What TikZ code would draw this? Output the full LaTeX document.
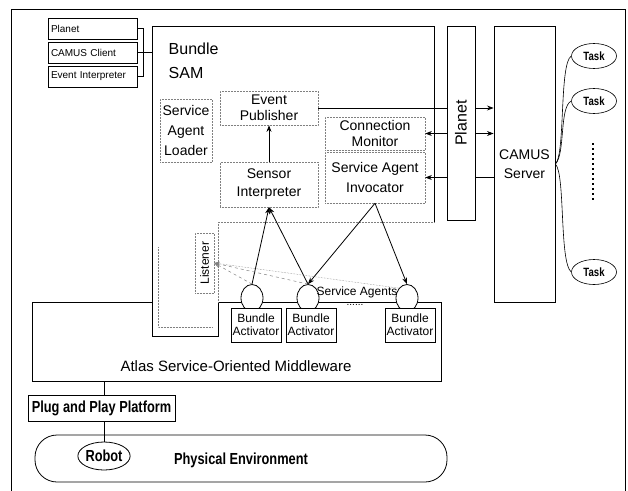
\documentclass[tikz,border=0pt]{standalone}
\usepackage{fontspec}
\setmainfont{Liberation Sans}
\usetikzlibrary{arrows.meta, shapes.geometric, calc}
\newcommand{\narrowtext}[1]{\scalebox{0.8}[1]{#1}}

\begin{document}
\begin{tikzpicture}[x=1pt, y=-1pt, line width=0.8pt,
    smallbox/.style={draw, minimum height=21, text width=83, inner sep=3pt, align=left, font={\fontsize{10}{12}\selectfont}},
    part/.style={draw=gray, densely dotted, line width=0.5pt, inner sep=1pt, align=center, text=black},
    agent/.style={ellipse, draw, fill=white, minimum width=22, minimum height=27, inner sep=0pt},
    activator/.style={draw, fill=white, minimum width=50, minimum height=34, inner sep=0.5pt, align=center, font={\fontsize{12}{13}\selectfont}},
    task/.style={ellipse, draw, line width=0.6pt, minimum width=45, minimum height=25, inner sep=0pt, font={\bfseries\fontsize{12}{12}\selectfont}}]
  \useasboundingbox (0,0) rectangle (628,490);
  \draw[thick] (11,9) rectangle (625,495);
  % middleware under the bundle
  \node[draw, minimum width=409, minimum height=79, anchor=north west] (mw) at (32,302) {};
  \node[font={\fontsize{15}{18}\selectfont}] (mwtxt) at (236,366) {Atlas Service-Oriented Middleware};
  % bundle SAM
  \fill[white] (152,26) -- (434,26) -- (434,222) -- (218,222) -- (218,336) -- (152,336) -- cycle;
  \draw (218,302) -- (218,336) -- (152,336) -- (152,26) -- (434,26) -- (434,222);
  \draw[gray, densely dotted, line width=0.5pt] (434,222) -- (218,222) -- (218,302);
  \draw[gray, densely dotted, line width=0.5pt] (158,247) -- (158,327) -- (212,327);
  \node[anchor=base west, font={\fontsize{16}{18}\selectfont}] (bundletxt) at (165,54) {Bundle};
  \node[anchor=base west, font={\fontsize{16}{18}\selectfont}] (samtxt) at (165,78) {SAM};
  \coordinate (samw) at (152,52.5);
  % clients
  \node[smallbox] (planetc) at (92.5,28.5) {Planet};
  \node[smallbox] (camusc) at (92.5,52.5) {CAMUS Client};
  \node[smallbox] (evint) at (92.5,76.5) {Event Interpreter};
  \draw[line width=0.6pt] (planetc.east) -- ++(6,0) |- (evint.east);
  \draw[line width=0.6pt] (camusc.east) -- (samw);
  % parts of SAM
  \node[part, minimum width=52, minimum height=63, font={\fontsize{14}{20}\selectfont}] (loader) at (186,130.5) {Service\\Agent\\Loader};
  \node[part, minimum width=98, minimum height=34, font={\fontsize{14}{16}\selectfont}] (evpub) at (269,108) {Event\\Publisher};
  \node[part, minimum width=98, minimum height=45, font={\fontsize{14}{18}\selectfont}] (sensor) at (269,184.5) {Sensor\\Interpreter};
  \node[part, minimum width=100, minimum height=33, font={\fontsize{14}{16}\selectfont}] (conmon) at (375,133.5) {Connection\\Monitor};
  \node[part, minimum width=100, minimum height=51, font={\fontsize{14}{20}\selectfont}] (invoc) at (375,177.5) {Service Agent\\Invocator};
  \node[part, minimum width=19, minimum height=60, label={[rotate=90, font={\fontsize{12}{12}\selectfont}]center:Listener}] (listener) at (204.5,263) {};
  % planet and server
  \node[draw, minimum width=28, minimum height=194, label={[rotate=90, font={\fontsize{16}{16}\selectfont}]center:Planet}] (planetv) at (461,123) {};
  \node[draw, minimum width=61, minimum height=276, align=center, font={\fontsize{14}{19}\selectfont}] (camus) at (524.5,164) {CAMUS\\Server};
  \node[task] (task1) at (594,56) {\narrowtext{Task}};
  \node[task] (task2) at (594,101) {\narrowtext{Task}};
  \node[task] (task3) at (594,272) {\narrowtext{Task}};
  \coordinate (dtop) at (593,143);
  \coordinate (dbot) at (593,202);
  \draw[line width=1.5pt, dash pattern=on 1.5pt off 3.5pt] (dtop) -- (dbot);
  \draw[line width=0.6pt] (camus.east) .. controls +(10,-10) and +(-12,8) .. (task1.west);
  \draw[line width=0.6pt] (camus.east) .. controls +(10,-10) and +(-12,6) .. (task2.west);
  \draw[line width=0.6pt] (camus.east) .. controls +(10,10) and +(-12,-10) .. (task3.west);
  \draw (evpub.east) -- (evpub.east -| planetv.west);
  \draw[-{Stealth}] (evpub.east -| planetv.east) -- (evpub.east -| camus.west);
  \draw[-{Stealth}] (conmon.east -| planetv.west) -- (conmon.east);
  \draw[-{Stealth}] (conmon.east -| planetv.east) -- (conmon.east -| camus.west);
  \draw[-{Stealth}] (invoc.east -| planetv.west) -- (invoc.east);
  \draw (invoc.east -| planetv.east) -- (invoc.east -| camus.west);
  % service agents
  \node[agent] (sa1) at (252,298) {};
  \node[agent] (sa2) at (308,298) {};
  \node[agent] (sa3) at (407,298) {};
  \node[activator] (ba1) at (256,325) {Bundle\\Activator};
  \node[activator] (ba2) at (311,325) {Bundle\\Activator};
  \node[activator] (ba3) at (410,325) {Bundle\\Activator};
  \node[font={\fontsize{10}{10}\selectfont}] (moredots) at (355,305) {......};
  \node[font={\fontsize{12}{12}\selectfont}] (satxt) at (357,292) {Service Agents};
  \draw[-{Stealth}] (sensor.north) -- (evpub.south);
  \draw[-{Stealth}] (sa1.north) -- (sensor.south);
  \draw[-{Stealth}] (sa2.north) -- (sensor.south);
  \draw[-{Stealth}] (invoc.south) -- (sa2.north);
  \draw[-{Stealth}] (invoc.south) -- (sa3.north);
  \draw[gray, dashed, line width=0.5pt, -{Stealth}] (sa1.north) -- (listener.east);
  \draw[gray, dashed, line width=0.5pt, -{Stealth}] (sa2.north) -- (listener.east);
  \draw[gray, densely dotted, line width=0.5pt, -{Stealth}] (sa3.north west) -- (listener.east);
  % platform and environment
  \node[draw, minimum width=147, minimum height=26, font={\bfseries\fontsize{16}{16}\selectfont}] (plug) at (101.5,408) {\narrowtext{Plug and Play Platform}};
  \node[draw, rounded corners=22pt, minimum width=412, minimum height=47] (env) at (241,458.5) {};
  \node[ellipse, draw, minimum width=46, minimum height=28, inner sep=0pt, font={\bfseries\fontsize{16}{16}\selectfont}] (robot) at (104,456) {\narrowtext{Robot}};
  \node[font={\bfseries\fontsize{16}{16}\selectfont}] (envtxt) at (241,460) {\narrowtext{Physical Environment}};
  \draw (mw.south -| robot.north) -- (robot.north |- plug.north);
  \draw (robot.north |- plug.south) -- (robot.north);
\end{tikzpicture}
\end{document}
